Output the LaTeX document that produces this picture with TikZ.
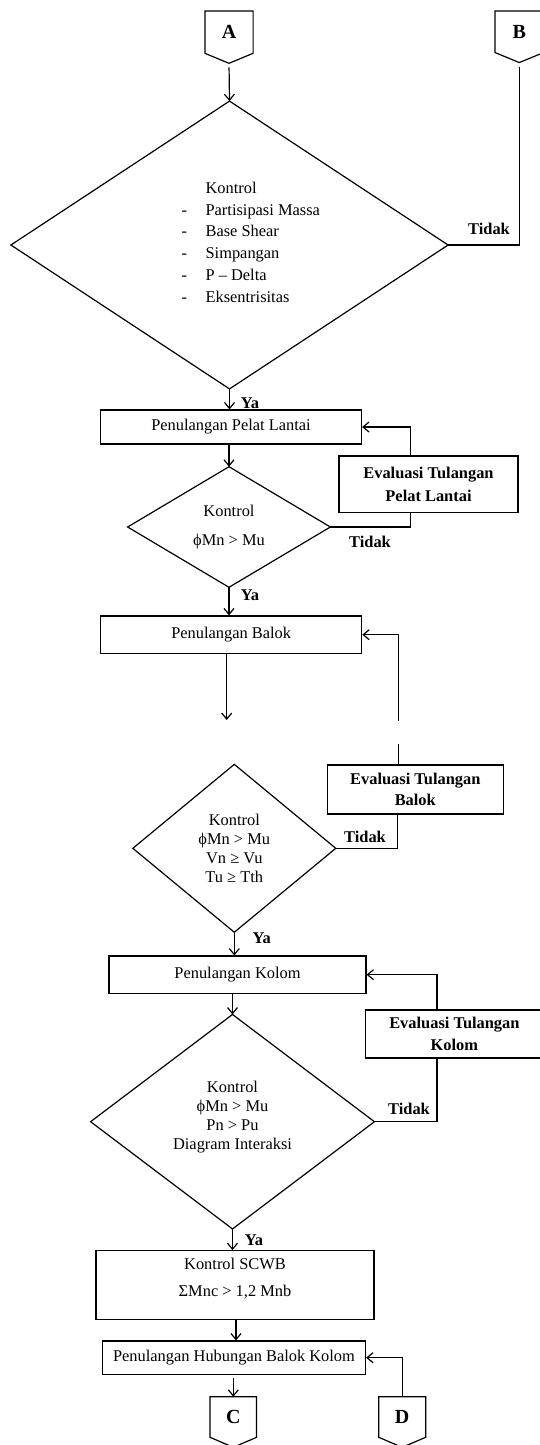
\documentclass[tikz,border=0pt]{standalone}
\usepackage{fontspec}
\setmainfont{Liberation Serif}
\usetikzlibrary{arrows.meta,calc}
\newcommand{\myfs}{\fontsize{16.4}{19.2}\selectfont}
\begin{document}
\begin{tikzpicture}[x=1pt,y=-1pt,line width=1.2pt,
  box/.style={draw, rectangle, inner sep=0pt, align=center, font=\myfs},
  ebox/.style={draw, rectangle, inner sep=0pt, align=center, font=\bfseries\fontsize{16.4}{21.5}\selectfont},
  dia/.style={rectangle, inner sep=0pt, align=center},
  term/.style={rectangle, inner sep=0pt, font=\bfseries\fontsize{20}{20}\selectfont},
  arr/.style={-{Straight Barb[length=6pt,width=10pt]}},
  lab/.style={inner sep=0pt, font=\bfseries\myfs}]
\clip (0,0) rectangle (540,1445);
\fill[white] (0,0) rectangle (540,1445);

% off-page connectors
\node[term, minimum width=47pt, minimum height=41pt] (A) at (229,32.2) {A};
\node[term, minimum width=47.5pt, minimum height=40.3pt] (B) at (519.3,31.8) {B};
\node[term, minimum width=45.3pt, minimum height=39.4pt] (C) at (233.3,1417) {C};
\node[term, minimum width=45.7pt, minimum height=39.4pt] (D) at (402.2,1417) {D};
\foreach \t in {A,B,C,D}{
  \draw (\t.north west) -- (\t.north east) -- (\t.south east) -- ($(\t.south)+(0,10)$) -- (\t.south west) -- cycle;
}
\coordinate (Atip) at ($(A.south)+(0,10)$);
\coordinate (Btip) at ($(B.south)+(0,10)$);

% big diamond
\node[dia, minimum width=436pt, minimum height=286.6pt] (d1) at (229.5,245) {};
\draw (d1.north) -- (d1.east) -- (d1.south) -- (d1.west) -- cycle;
\node[anchor=west, align=left, inner sep=0pt, font=\fontsize{16.4}{21.7}\selectfont] (t1) at (181,242.2)
 {\makebox[24pt][l]{}Kontrol\\
  \makebox[24pt][l]{-}Partisipasi Massa\\
  \makebox[24pt][l]{-}Base Shear\\
  \makebox[24pt][l]{-}Simpangan\\
  \makebox[24pt][l]{-}P -- Delta\\
  \makebox[24pt][l]{-}Eksentrisitas};

% pelat lantai
\node[box, minimum width=261pt, minimum height=34pt] (b1) at (231,427) {Penulangan Pelat Lantai};
\node[dia, minimum width=201.5pt, minimum height=119.4pt, font=\fontsize{16.4}{29}\selectfont] (d2) at (229,527) {Kontrol\\ϕMn > Mu};
\draw (d2.north) -- (d2.east) -- (d2.south) -- (d2.west) -- cycle;
\node[ebox, minimum width=179pt, minimum height=56.7pt, font=\bfseries\fontsize{16.4}{22.3}\selectfont] (e1) at (428.5,484.3) {Evaluasi Tulangan\\Pelat Lantai};

% balok
\node[box, minimum width=261pt, minimum height=37.5pt] (b2) at (231.2,634.7) {Penulangan Balok};
\node[ebox, minimum width=176pt, minimum height=49pt] (e2) at (415.3,789.5) {Evaluasi Tulangan\\Balok};
\node[dia, minimum width=201.7pt, minimum height=166.7pt, font=\myfs] (d3) at (234.3,848.3) {Kontrol\\ϕMn > Mu\\Vn ≥ Vu\\Tu ≥ Tth};
\draw (d3.north) -- (d3.east) -- (d3.south) -- (d3.west) -- cycle;
\coordinate (c1) at (226.7,720);
\coordinate (c2) at (398.3,744);
\coordinate (c3) at (398.3,720.7);

% kolom
\node[box, minimum width=257pt, minimum height=37.3pt] (b3) at (237.5,974.7) {Penulangan Kolom};
\node[ebox, minimum width=177.3pt, minimum height=48pt] (e3) at (454.4,1034) {Evaluasi Tulangan\\Kolom};
\node[dia, minimum width=282.6pt, minimum height=213.3pt] (d4) at (232.5,1121.7) {};
\draw (d4.north) -- (d4.east) -- (d4.south) -- (d4.west) -- cycle;
\node[align=center, inner sep=0pt, font=\fontsize{16.4}{18.9}\selectfont] (t4) at (232.5,1117.4) {Kontrol\\ϕMn > Mu\\Pn > Pu\\Diagram Interaksi};

% SCWB and HBK
\node[box, minimum width=278pt, minimum height=68.6pt] (b4) at (235,1285) {};
\node[align=center, inner sep=0pt, font=\fontsize{16.4}{26.7}\selectfont] (t5) at (235,1278.3) {Kontrol SCWB\\ΣMnc > 1,2 Mnb};
\node[box, minimum width=263pt, minimum height=33.3pt] (b5) at (234,1357.7) {Penulangan Hubungan Balok Kolom};
\coordinate (k4) at (236,1330);

% labels
\node[lab] (ya1) at (250,403.3) {Ya};
\node[lab] (ya2) at (250,595) {Ya};
\node[lab] (ya3) at (261.7,938.3) {Ya};
\node[lab] (ya4) at (254,1240) {Ya};
\node[lab] (td1) at (489,229.3) {Tidak};
\node[lab] (td2) at (370,541.7) {Tidak};
\node[lab] (td3) at (365,836.7) {Tidak};
\node[lab] (td4) at (409,1109) {Tidak};

% connectors
\draw[arr, shorten <=4pt] (Atip) -- (d1.north);
\draw[shorten <=4pt] (Btip) |- (d1.east);
\draw[arr] (d1.south) -- (d1.south |- b1.north);
\draw[arr] (b1.south -| d2.north) -- (d2.north);
\draw (d2.east) -| ([xshift=-18pt]e1.south);
\draw[arr] ([xshift=-18pt]e1.north) |- (b1.east);
\draw[arr] (d2.south) -- (d2.south |- b2.north);
\draw[arr] (b2.south -| c1) -- (c1);
\draw ([xshift=-17pt]e2.north) -- (c2);
\draw[arr] (c3) |- (b2.east);
\draw (d3.east) -| ([xshift=-18pt]e2.south);
\draw[arr] (d3.south) -- (d3.south |- b3.north);
\draw[arr] (b3.south -| d4.north) -- (d4.north);
\draw (d4.east) -| ([xshift=-17.4pt]e3.south);
\draw[arr] ([xshift=-17.4pt]e3.north) |- (b3.east);
\draw[arr] (d4.south) -- (d4.south |- b4.north);
\draw[arr] (b4.south -| k4) -- (b5.north -| k4);
\draw[arr, shorten <=3pt] (b5.south -| C.north) -- (C.north);
\draw[arr] (D.north) |- (b5.east);
\end{tikzpicture}
\end{document}
